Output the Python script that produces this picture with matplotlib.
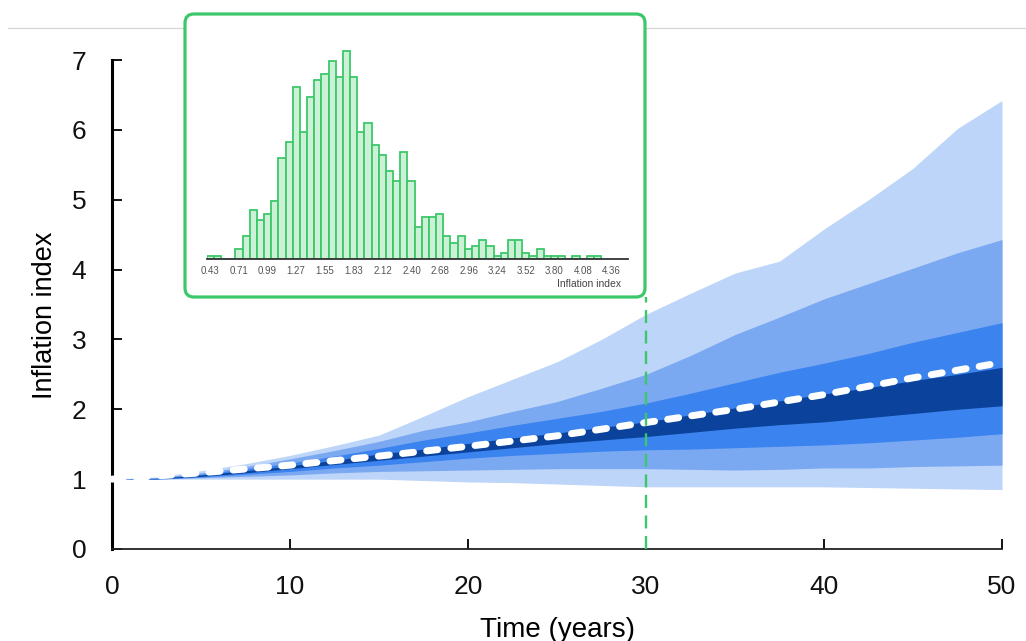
import matplotlib
matplotlib.use("Agg")
import matplotlib.pyplot as plt
from matplotlib.patches import FancyBboxPatch
from matplotlib.lines import Line2D
from matplotlib.transforms import IdentityTransform, blended_transform_factory

plt.rcParams['font.family'] = ['Liberation Sans', 'DejaVu Sans']

# ---------------- data ----------------
years = [0, 2.5, 5, 7.5, 10, 12.5, 15, 17.5, 20, 22.5, 25, 27.5, 30,
         32.5, 35, 37.5, 40, 42.5, 45, 47.5, 50]
outer_hi = [1.00, 1.03, 1.12, 1.22, 1.34, 1.48, 1.63, 1.90, 2.18, 2.43, 2.68, 3.00, 3.36,
            3.66, 3.95, 4.12, 4.58, 5.00, 5.45, 6.02, 6.42]
mid_hi = [1.00, 1.02, 1.09, 1.18, 1.29, 1.41, 1.54, 1.70, 1.82, 1.97, 2.11, 2.30, 2.50,
          2.77, 3.07, 3.32, 3.58, 3.80, 4.02, 4.24, 4.43]
inner_hi = [1.00, 1.015, 1.07, 1.15, 1.23, 1.33, 1.44, 1.56, 1.66, 1.77, 1.87, 1.97, 2.09,
            2.23, 2.38, 2.53, 2.66, 2.80, 2.96, 3.10, 3.24]
core_hi = [1.00, 1.01, 1.06, 1.12, 1.19, 1.27, 1.36, 1.43, 1.51, 1.59, 1.66, 1.74, 1.82,
           1.92, 2.02, 2.12, 2.22, 2.31, 2.41, 2.50, 2.60]
core_lo = [1.00, 1.005, 1.04, 1.09, 1.15, 1.21, 1.27, 1.33, 1.39, 1.45, 1.51, 1.56, 1.61,
           1.67, 1.73, 1.78, 1.82, 1.88, 1.94, 2.00, 2.05]
inner_lo = [1.00, 1.00, 1.03, 1.07, 1.11, 1.16, 1.20, 1.25, 1.30, 1.34, 1.37, 1.40, 1.42,
            1.43, 1.45, 1.47, 1.49, 1.52, 1.56, 1.60, 1.65]
mid_lo = [1.00, 1.00, 1.02, 1.04, 1.06, 1.09, 1.11, 1.12, 1.13, 1.14, 1.15, 1.15, 1.15,
          1.14, 1.13, 1.14, 1.16, 1.16, 1.18, 1.19, 1.20]
outer_lo = [1.00, 1.00, 1.00, 1.00, 1.00, 1.00, 1.00, 0.98, 0.96, 0.95, 0.93, 0.91, 0.89,
            0.89, 0.89, 0.89, 0.89, 0.88, 0.87, 0.86, 0.85]

mean_years = [0, 5, 10, 15, 20, 25, 30, 35, 40, 45, 50]
mean_index = [1.00, 1.09, 1.20, 1.33, 1.47, 1.62, 1.81, 2.00, 2.21, 2.45, 2.67]

x_ticks = [0, 10, 20, 30, 40, 50]
y_ticks = [0, 1, 2, 3, 4, 5, 6, 7]
snapshot_year = 30

# histogram of the index at the snapshot year
hist_start = 0.43
hist_width = 0.0702
hist_counts = [1, 1, 0, 0, 3, 7, 15, 12, 14, 18, 31, 36, 53, 39, 50, 55, 57, 61, 56, 64,
               56, 39, 42, 35, 32, 27, 24, 33, 24, 10, 13, 13, 14, 7, 5, 7, 3, 4, 6, 4,
               1, 2, 6, 6, 2, 1, 3, 1, 1, 1, 0, 1, 0, 1, 1]
hist_tick_labels = ['0.43', '0.71', '0.99', '1.27', '1.55', '1.83', '2.12', '2.40',
                    '2.68', '2.96', '3.24', '3.52', '3.80', '4.08', '4.36']

# ---------------- styling ----------------
c_outer = '#bdd5f8'
c_mid = '#7ba9f1'
c_inner = '#3b83ee'
c_core = '#0b429b'
green = '#3cc86a'
hist_face = '#cdf1d7'

W, H = 1026, 641
fig = plt.figure(figsize=(W / 100, H / 100), dpi=100)
ax = fig.add_axes([112 / W, 1 - 549 / H, 890 / W, 489 / H])

ax.fill_between(years, outer_lo, outer_hi, color=c_outer, lw=0, zorder=1)
ax.fill_between(years, mid_lo, mid_hi, color=c_mid, lw=0, zorder=1.1)
ax.fill_between(years, inner_lo, inner_hi, color=c_inner, lw=0, zorder=1.2)
ax.fill_between(years, core_lo, core_hi, color=c_core, lw=0, zorder=1.3)

mline, = ax.plot(mean_years, mean_index, color='white', lw=5.0, zorder=5,
                 clip_on=False)
mline.set_dashes((1.6, 1.9))
mline.set_dash_capstyle('round')

ax.set_xlim(0, 50)
ax.set_ylim(0, 7)
ax.set_xticks(x_ticks)
ax.set_yticks(y_ticks)
ax.spines['top'].set_visible(False)
ax.spines['right'].set_visible(False)
ax.spines['left'].set_linewidth(2.2)
ax.spines['bottom'].set_linewidth(1.3)
ax.spines['bottom'].set_color('#222222')
ax.tick_params(axis='both', direction='in', length=7, width=1.4, labelsize=19,
               pad=18.5, colors='#111111')
ax.set_xlabel('Time (years)', fontsize=20)
ax.xaxis.set_label_coords(0.5, -0.18)
ax.xaxis.label.set_va('baseline')
ax.set_ylabel('Inflation index', fontsize=19.5)
ax.yaxis.set_label_coords(-0.075, 0.478)
ax.yaxis.label.set_va('center')

# thin grey rule at the top of the figure
fig.add_artist(Line2D([8 / W, 1.0], [1 - 28 / H, 1 - 28 / H], transform=fig.transFigure,
                      color='#d6d6d6', lw=0.9, zorder=0.5))

# inset frame
box = FancyBboxPatch((185, H - 297), 460, 283, boxstyle='round,pad=0,rounding_size=9',
                     transform=IdentityTransform(), facecolor='white', edgecolor=green,
                     lw=2.3, zorder=3)
fig.add_artist(box)

# dashed connector from the snapshot year up to the inset
tr = blended_transform_factory(ax.transData, fig.transFigure)
y0 = ax.get_position().y0
conn = Line2D([snapshot_year, snapshot_year], [y0, 1 - 297 / H], transform=tr,
              color=green, lw=1.7, zorder=6)
conn.set_dashes((5.5, 3.2))
fig.add_artist(conn)

# inset histogram
iax = fig.add_axes([206.7 / W, 1 - 259 / H, 421.6 / W, 219 / H], zorder=4)
iax.patch.set_alpha(0)
centers = [hist_start + i * hist_width for i in range(len(hist_counts))]
iax.bar(centers, hist_counts, width=hist_width, color=hist_face, edgecolor=green,
        lw=1.3, zorder=2)
lo = hist_start - hist_width / 2
iax.set_xlim(lo, lo + 58.8 * hist_width)
iax.set_ylim(0, 64 * 219 / 208)
iax.set_xticks([float(s) for s in hist_tick_labels])
iax.set_xticklabels(hist_tick_labels)
iax.set_yticks([])
for s in ['top', 'right', 'left']:
    iax.spines[s].set_visible(False)
iax.spines['bottom'].set_linewidth(1.3)
iax.spines['bottom'].set_color('#333333')
iax.spines['bottom'].set_zorder(3)
iax.tick_params(axis='x', length=0, labelsize=7, pad=5, colors='#555555')
iax.set_xlabel('Inflation index', fontsize=7.5, color='#444444')
iax.xaxis.set_label_coords(0.983, -0.114)
iax.xaxis.label.set_ha('right')
iax.xaxis.label.set_va('center')

fig.savefig('out.png', dpi=100)
